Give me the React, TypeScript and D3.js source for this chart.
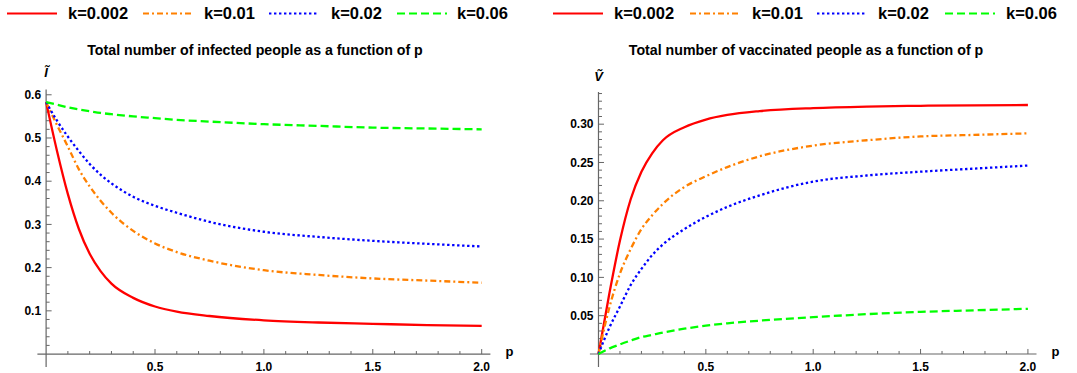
import { useRef, useEffect } from "react";
import { select, scaleLinear, line, curveMonotoneX, range, format } from "d3";

const W = 1077;
const H = 373;
const FONT = "'Liberation Sans', Arial, sans-serif";

// p values shared by every curve
const pValues = [0, 0.05, 0.1, 0.15, 0.2, 0.25, 0.3, 0.4, 0.5, 0.6, 0.75, 1.0, 1.25, 1.5, 1.75, 2.0];
const seriesKeys = ["k=0.002", "k=0.01", "k=0.02", "k=0.06"];

// total infected
const infectedK0002 = [0.583, 0.47, 0.37, 0.29, 0.232, 0.192, 0.163, 0.13, 0.11, 0.098, 0.088, 0.078, 0.073, 0.07, 0.067, 0.065];
const infectedK001 = [0.583, 0.53, 0.48, 0.428, 0.388, 0.355, 0.327, 0.285, 0.256, 0.236, 0.216, 0.194, 0.183, 0.175, 0.17, 0.165];
const infectedK002 = [0.583, 0.54, 0.503, 0.47, 0.44, 0.415, 0.395, 0.364, 0.343, 0.327, 0.306, 0.283, 0.271, 0.262, 0.255, 0.249];
const infectedK006 = [0.583, 0.577, 0.571, 0.566, 0.562, 0.558, 0.555, 0.55, 0.546, 0.542, 0.538, 0.532, 0.528, 0.524, 0.522, 0.52];

// total vaccinated
const vaccinatedK0002 = [0, 0.078, 0.148, 0.202, 0.238, 0.262, 0.279, 0.296, 0.306, 0.312, 0.317, 0.321, 0.323, 0.324, 0.3245, 0.325];
const vaccinatedK001 = [0, 0.06, 0.105, 0.137, 0.163, 0.181, 0.196, 0.218, 0.232, 0.244, 0.258, 0.272, 0.279, 0.284, 0.286, 0.288];
const vaccinatedK002 = [0, 0.034, 0.062, 0.09, 0.111, 0.129, 0.143, 0.163, 0.179, 0.192, 0.207, 0.225, 0.233, 0.238, 0.242, 0.246];
const vaccinatedK006 = [0, 0.007, 0.0125, 0.0175, 0.022, 0.025, 0.028, 0.033, 0.037, 0.04, 0.0435, 0.048, 0.052, 0.055, 0.057, 0.059];

const xTicks = [0.5, 1.0, 1.5, 2.0];
const infectedTicks = [0.1, 0.2, 0.3, 0.4, 0.5, 0.6];
const vaccinatedTicks = [0.05, 0.1, 0.15, 0.2, 0.25, 0.3];

const lineStyles = [
  { color: "#ff0000", dash: null },
  { color: "#ff8000", dash: "6,3,2,3" },
  { color: "#0000ff", dash: "2.4,2.6" },
  { color: "#00ff00", dash: "8,4" },
];

const panels = [
  {
    title: "Total number of infected people as a function of p",
    titleX: 255,
    yLabel: "\u0128",
    yLabelY: 77,
    series: [infectedK0002, infectedK001, infectedK002, infectedK006],
    xRange: [37.4, 490.4],
    yDomain: [-0.03, 0.612],
    yRange: [367, 89.6],
    majorY: infectedTicks,
    minorY: range(1, 31).map((i) => +(i * 0.02).toFixed(2)),
    yFormat: format(".1f"),
    legendLine: [7, 143, 269, 397],
    legendText: [68, 204, 331, 457],
  },
  {
    title: "Total number of vaccinated people as a function of p",
    titleX: 806,
    yLabel: "\u1E7C",
    yLabelY: 81,
    series: [vaccinatedK0002, vaccinatedK001, vaccinatedK002, vaccinatedK006],
    xRange: [589.9, 1036.5],
    yDomain: [-0.017, 0.342],
    yRange: [367, 92],
    majorY: vaccinatedTicks,
    minorY: range(1, 35).map((i) => +(i * 0.01).toFixed(2)),
    yFormat: format(".2f"),
    legendLine: [553, 690, 817, 945],
    legendText: [614, 752, 878, 1006],
  },
];

function App() {
  const svgRef = useRef(null);

  useEffect(() => {
    const svg = select(svgRef.current);
    svg.selectAll("*").remove();

    panels.forEach((pn) => {
      const g = svg.append("g");
      const xScale = scaleLinear().domain([-0.04, 2.04]).range(pn.xRange);
      const yScale = scaleLinear().domain(pn.yDomain).range(pn.yRange);
      const x0 = xScale(0);
      const y0 = yScale(0);

      // legend
      seriesKeys.forEach((key, i) => {
        g.append("line")
          .attr("x1", pn.legendLine[i])
          .attr("x2", pn.legendLine[i] + 50)
          .attr("y1", 13.5)
          .attr("y2", 13.5)
          .attr("stroke", lineStyles[i].color)
          .attr("stroke-width", 2.2)
          .attr("stroke-dasharray", lineStyles[i].dash);
        g.append("text")
          .attr("x", pn.legendText[i])
          .attr("y", 19)
          .style("font-family", FONT)
          .style("font-size", "16.5px")
          .style("font-weight", "bold")
          .text(key);
      });

      // title
      g.append("text")
        .attr("x", pn.titleX)
        .attr("y", 55)
        .attr("text-anchor", "middle")
        .style("font-family", FONT)
        .style("font-size", "14.2px")
        .style("font-weight", "bold")
        .text(pn.title);

      // axes
      const axisColor = "#666";
      g.append("line")
        .attr("x1", pn.xRange[0]).attr("x2", pn.xRange[1])
        .attr("y1", y0).attr("y2", y0)
        .attr("stroke", axisColor).attr("stroke-width", 1.2);
      g.append("line")
        .attr("x1", x0).attr("x2", x0)
        .attr("y1", pn.yRange[0]).attr("y2", pn.yRange[1])
        .attr("stroke", axisColor).attr("stroke-width", 1.2);

      // x ticks
      const minorX = range(1, 21).map((i) => +(i * 0.1).toFixed(1));
      minorX.forEach((v) => {
        const major = xTicks.includes(v);
        g.append("line")
          .attr("x1", xScale(v)).attr("x2", xScale(v))
          .attr("y1", y0).attr("y2", y0 - (major ? 5 : 3))
          .attr("stroke", axisColor).attr("stroke-width", 1);
      });
      xTicks.forEach((v) => {
        g.append("text")
          .attr("x", xScale(v))
          .attr("y", 371)
          .attr("text-anchor", "middle")
          .style("font-family", FONT)
          .style("font-size", "12px")
          .style("font-weight", "bold")
          .text(format(".1f")(v));
      });

      // y ticks
      pn.minorY.forEach((v) => {
        const major = pn.majorY.some((m) => Math.abs(m - v) < 1e-6);
        g.append("line")
          .attr("x1", x0).attr("x2", x0 + (major ? 5.5 : 3.5))
          .attr("y1", yScale(v)).attr("y2", yScale(v))
          .attr("stroke", axisColor).attr("stroke-width", 1);
      });
      pn.majorY.forEach((v) => {
        g.append("text")
          .attr("x", x0 - 5)
          .attr("y", yScale(v))
          .attr("dy", "0.35em")
          .attr("text-anchor", "end")
          .style("font-family", FONT)
          .style("font-size", "12px")
          .style("font-weight", "bold")
          .text(pn.yFormat(v));
      });

      // axis labels
      g.append("text")
        .attr("x", pn.xRange[1] + 15)
        .attr("y", y0 + 2)
        .style("font-family", FONT)
        .style("font-size", "13px")
        .style("font-weight", "bold")
        .text("p");
      g.append("text")
        .attr("x", x0)
        .attr("y", pn.yLabelY)
        .attr("text-anchor", "middle")
        .style("font-family", FONT)
        .style("font-size", "13px")
        .style("font-style", "italic")
        .style("font-weight", "bold")
        .text(pn.yLabel);

      // curves
      const curve = line()
        .x((d) => xScale(d[0]))
        .y((d) => yScale(d[1]))
        .curve(curveMonotoneX);
      pn.series.forEach((values, i) => {
        g.append("path")
          .attr("d", curve(values.map((v, j) => [pValues[j], v])))
          .attr("fill", "none")
          .attr("stroke", lineStyles[i].color)
          .attr("stroke-width", 2.3)
          .attr("stroke-dasharray", lineStyles[i].dash);
      });
    });
  }, []);

  return (
    <svg
      ref={svgRef}
      width={W}
      height={H}
      style={{ position: "absolute", left: 0, top: 0, background: "#fff" }}
    />
  );
}

export default App;
